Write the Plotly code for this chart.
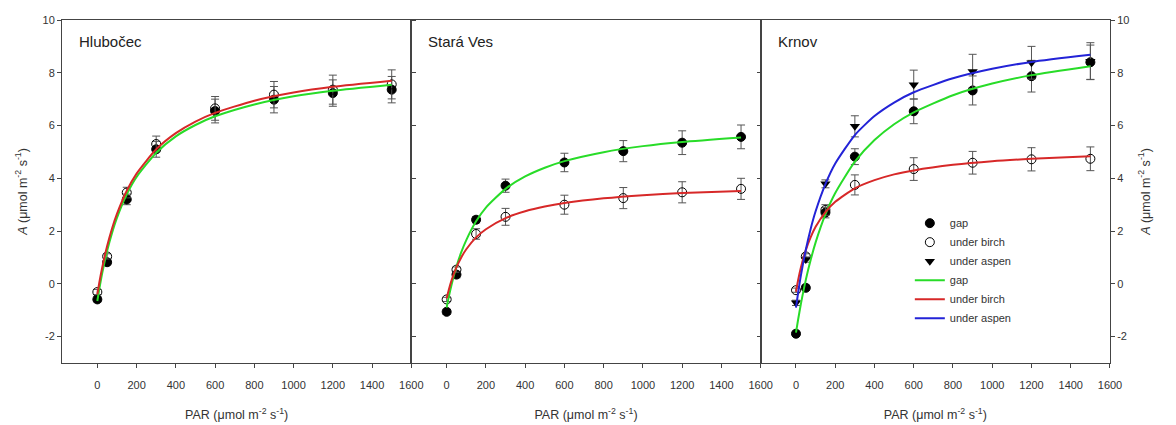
import plotly.graph_objects as go

# ---------------- data ----------------
par_points = [0, 50, 150, 300, 600, 900, 1200, 1500]
par_curve = [0, 10, 25, 50, 75, 100, 150, 200, 300, 400, 500, 600, 800, 1000, 1200, 1500]

# Hlubočec
hlu_gap = [-0.59, 0.82, 3.20, 5.10, 6.55, 6.98, 7.23, 7.36]
hlu_gap_err = [0.10, 0.10, 0.20, 0.30, 0.45, 0.50, 0.50, 0.50]
hlu_birch = [-0.31, 1.04, 3.46, 5.30, 6.65, 7.17, 7.36, 7.56]
hlu_birch_err = [0.10, 0.10, 0.20, 0.30, 0.45, 0.50, 0.55, 0.55]
hlu_gap_fit = [-0.65, -0.20, 0.41, 1.25, 1.93, 2.50, 3.39, 4.05, 4.97, 5.59, 6.02, 6.35, 6.80, 7.11, 7.32, 7.55]
hlu_birch_fit = [-0.40, 0.04, 0.62, 1.43, 2.10, 2.65, 3.53, 4.18, 5.10, 5.71, 6.15, 6.48, 6.94, 7.25, 7.47, 7.70]

# Stará Ves
sta_gap = [-1.06, 0.35, 2.43, 3.72, 4.60, 5.03, 5.35, 5.57]
sta_gap_err = [0.10, 0.12, 0.12, 0.25, 0.35, 0.40, 0.45, 0.45]
sta_birch = [-0.59, 0.54, 1.89, 2.54, 3.00, 3.25, 3.47, 3.60]
sta_birch_err = [0.08, 0.10, 0.20, 0.32, 0.36, 0.40, 0.40, 0.40]
sta_gap_fit = [-0.90, -0.52, -0.03, 0.66, 1.21, 1.66, 2.37, 2.89, 3.60, 4.07, 4.40, 4.65, 4.99, 5.22, 5.38, 5.55]
sta_birch_fit = [-0.55, -0.25, 0.13, 0.63, 1.01, 1.31, 1.76, 2.07, 2.49, 2.75, 2.93, 3.06, 3.24, 3.36, 3.44, 3.52]

# Krnov
krn_gap = [-1.89, -0.15, 2.70, 4.82, 6.54, 7.33, 7.87, 8.40]
krn_gap_err = [0.10, 0.10, 0.20, 0.30, 0.47, 0.55, 0.60, 0.65]
krn_birch = [-0.24, 1.04, 2.80, 3.75, 4.35, 4.59, 4.72, 4.74]
krn_birch_err = [0.08, 0.10, 0.20, 0.38, 0.43, 0.43, 0.44, 0.45]
krn_aspen = [-0.72, 0.92, 3.79, 5.97, 7.55, 8.05, 8.38, 8.44]
krn_aspen_err = [0.10, 0.10, 0.15, 0.40, 0.55, 0.65, 0.62, 0.70]
krn_gap_fit = [-1.85, -1.39, -0.76, 0.15, 0.91, 1.57, 2.63, 3.44, 4.63, 5.45, 6.05, 6.50, 7.15, 7.59, 7.91, 8.25]
krn_birch_fit = [-0.30, 0.11, 0.62, 1.28, 1.77, 2.16, 2.72, 3.11, 3.62, 3.93, 4.15, 4.30, 4.51, 4.65, 4.74, 4.84]
krn_aspen_fit = [-0.90, -0.38, 0.32, 1.29, 2.09, 2.75, 3.78, 4.56, 5.64, 6.36, 6.87, 7.26, 7.79, 8.15, 8.41, 8.68]

site_names = ["Hlubočec", "Stará Ves", "Krnov"]
x_ticks = [0, 200, 400, 600, 800, 1000, 1200, 1400, 1600]
y_ticks = [-2, 0, 2, 4, 6, 8, 10]
y_tick_labels = ["-2", "0", "2", "4", "6", "8", "10"]

# ---------------- styles ----------------
GREEN = "rgb(40,220,40)"
RED = "rgb(215,40,40)"
BLUE = "rgb(35,35,215)"
AXC = "#444444"
FONT = "Liberation Sans, Arial, sans-serif"

fig = go.Figure()


def add_points(ax, y, err, kind, show):
    xa = "x" if ax == 1 else f"x{ax}"
    ya = "y" if ax == 1 else f"y{ax}"
    if kind == "gap":
        marker = dict(symbol="circle", color="black", size=9, line=dict(color="black", width=1))
    elif kind == "under birch":
        marker = dict(symbol="circle-open", color="black", size=9, line=dict(color="black", width=1))
    else:
        marker = dict(symbol="triangle-down", color="black", size=9, line=dict(color="black", width=0))
    fig.add_trace(go.Scatter(
        x=par_points, y=y, mode="markers", marker=marker, name=kind,
        xaxis=xa, yaxis=ya, showlegend=show, legendgroup="pts" + kind,
        error_y=dict(type="data", array=err, visible=True, color="#555555", thickness=1, width=4),
    ))


def add_curve(ax, y, kind, color, show):
    xa = "x" if ax == 1 else f"x{ax}"
    ya = "y" if ax == 1 else f"y{ax}"
    fig.add_trace(go.Scatter(
        x=par_curve, y=y, mode="lines", line=dict(color=color, width=2, shape="spline", smoothing=0.6),
        name=kind, xaxis=xa, yaxis=ya, showlegend=show, legendgroup="ln" + kind,
    ))


# markers (panels 1,2 without legend; panel 3 in legend)
add_points(1, hlu_gap, hlu_gap_err, "gap", False)
add_points(1, hlu_birch, hlu_birch_err, "under birch", False)
add_points(2, sta_gap, sta_gap_err, "gap", False)
add_points(2, sta_birch, sta_birch_err, "under birch", False)
add_points(3, krn_gap, krn_gap_err, "gap", True)
add_points(3, krn_birch, krn_birch_err, "under birch", True)
add_points(3, krn_aspen, krn_aspen_err, "under aspen", True)

# fitted curves
add_curve(1, hlu_gap_fit, "gap", GREEN, False)
add_curve(1, hlu_birch_fit, "under birch", RED, False)
add_curve(2, sta_gap_fit, "gap", GREEN, False)
add_curve(2, sta_birch_fit, "under birch", RED, False)
add_curve(3, krn_gap_fit, "gap", GREEN, True)
add_curve(3, krn_birch_fit, "under birch", RED, True)
add_curve(3, krn_aspen_fit, "under aspen", BLUE, True)

xtitle = "PAR (μmol m<sup>-2</sup> s<sup>-1</sup>)"
ytitle = "<i>A</i> (μmol m<sup>-2</sup> s<sup>-1</sup>)"

common_x = dict(range=[-180, 1600], tickvals=x_ticks, ticks="outside", ticklen=4, tickcolor=AXC,
                showline=True, linecolor=AXC, linewidth=1, mirror=True, showgrid=False, zeroline=False,
                ticklabelstandoff=8, automargin=False,
                tickfont=dict(size=11, color="#333333", family=FONT),
                title=dict(text=xtitle, font=dict(size=12.5, color="#333333", family=FONT), standoff=20))
common_y = dict(range=[-3, 10], tickvals=y_ticks, ticktext=y_tick_labels, ticklen=4, tickcolor=AXC,
                showline=True, linecolor=AXC, linewidth=1, showgrid=False, zeroline=False,
                automargin=False,
                tickfont=dict(size=11, color="#333333", family=FONT))

fig.update_layout(
    width=1176, height=425,
    margin=dict(l=62, r=66, t=20, b=62),
    plot_bgcolor="white", paper_bgcolor="white",
    font=dict(family=FONT, color="#333333"),
    xaxis=dict(domain=[0, 1/3], anchor="y", **common_x),
    xaxis2=dict(domain=[1/3, 2/3], anchor="y2", **common_x),
    xaxis3=dict(domain=[2/3, 1], anchor="y3", **common_x),
    yaxis=dict(anchor="x", ticks="outside", mirror="ticks", showticklabels=True,
               title=dict(text=ytitle, font=dict(size=12.5, color="#333333", family=FONT), standoff=12),
               **common_y),
    yaxis2=dict(anchor="x2", ticks="inside", mirror="ticks", showticklabels=False, **common_y),
    yaxis3=dict(anchor="x3", side="right", ticks="outside", mirror=True, showticklabels=True,
                title=dict(text=ytitle, font=dict(size=12.5, color="#333333", family=FONT), standoff=12),
                **common_y),
    legend=dict(x=0.809, y=0.45, xanchor="left", yanchor="top", bgcolor="rgba(0,0,0,0)",
                font=dict(size=11, color="#333333", family=FONT), tracegroupgap=0, itemwidth=30),
    showlegend=True,
)

for i, name in enumerate(site_names):
    fig.add_annotation(text=name, xref=("x" if i == 0 else f"x{i+1}") + " domain",
                       yref="paper", x=0.043, y=0.936, xanchor="left", yanchor="middle",
                       showarrow=False, font=dict(size=15, color="#222222", family=FONT))

fig.write_html("out.html", config={"displayModeBar": False},
               post_script="document.body.style.margin='0';")
